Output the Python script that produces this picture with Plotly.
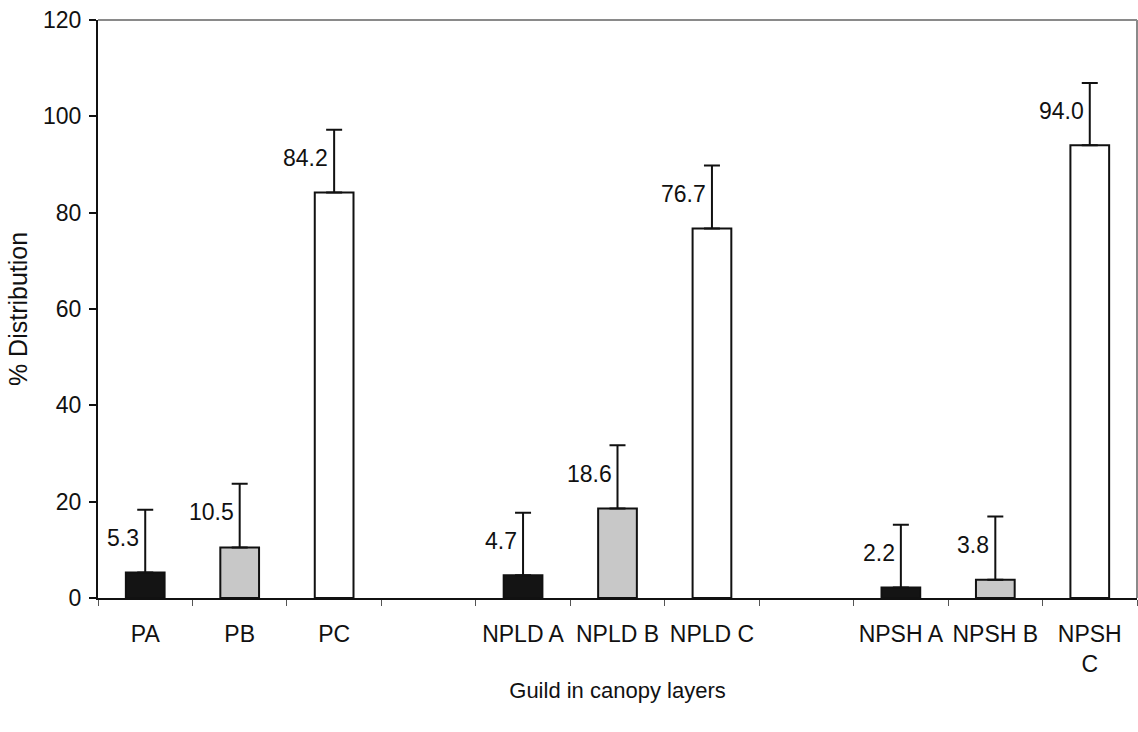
import plotly.graph_objects as go

categories = ["PA", "PB", "PC", " ", "NPLD A", "NPLD B", "NPLD C", "  ", "NPSH A", "NPSH B", "NPSH<br>C"]
bar_cats = ["PA", "PB", "PC", "NPLD A", "NPLD B", "NPLD C", "NPSH A", "NPSH B", "NPSH<br>C"]
values = [5.3, 10.5, 84.2, 4.7, 18.6, 76.7, 2.2, 3.8, 94.0]
errors = [13.0, 13.2, 13.0, 13.0, 13.1, 13.1, 13.0, 13.1, 12.9]
layer = ["A", "B", "C", "A", "B", "C", "A", "B", "C"]
layer_colors = {"A": "#141414", "B": "#c8c8c8", "C": "#ffffff"}
y_ticks = [0, 20, 40, 60, 80, 100, 120]

FONT = "Liberation Sans, Arial, sans-serif"

fig = go.Figure()
fig.add_trace(go.Bar(
    x=bar_cats, y=values,
    width=0.41,
    marker=dict(color=[layer_colors[l] for l in layer], line=dict(color="#111111", width=2)),
    error_y=dict(type="data", symmetric=False, array=errors, arrayminus=[0] * len(errors),
                 color="#111111", thickness=2, width=8),
    showlegend=False,
))

for c, v, e in zip(bar_cats, values, errors):
    fig.add_annotation(x=c, y=v + e * 0.55, text=f"{v:.1f}", showarrow=False,
                       xanchor="right", yanchor="middle", xshift=-4,
                       font=dict(family=FONT, size=23, color="#111111"))

fig.update_layout(
    template="none",
    width=1138, height=732,
    margin=dict(l=98, r=1, t=20, b=134, autoexpand=False),
    paper_bgcolor="white", plot_bgcolor="white",
    bargap=0.59,
    font=dict(family=FONT, color="#111111"),
    xaxis=dict(
        type="category", categoryorder="array", categoryarray=categories,
        tickson="boundaries", ticks="outside", ticklen=6, tickwidth=1, tickcolor="#555555",
        showline=True, linecolor="#111111", linewidth=2,
        showgrid=False, zeroline=False, automargin=False, tickangle=0,
        ticklabelstandoff=14,
        tickfont=dict(family=FONT, size=23, color="#111111"),
        title=dict(text="Guild in canopy layers", font=dict(family=FONT, size=22, color="#111111"), standoff=7),
        range=[-0.5, 10.5],
    ),
    yaxis=dict(
        range=[0, 120], tickvals=y_ticks,
        ticks="outside", ticklen=7, tickwidth=2, tickcolor="#111111",
        showline=True, linecolor="#111111", linewidth=2,
        showgrid=False, zeroline=False, automargin=False,
        ticklabeloverflow="allow", ticklabelstandoff=3,
        tickfont=dict(family=FONT, size=23, color="#111111"),
        title=dict(text="% Distribution", font=dict(family=FONT, size=25, color="#111111"), standoff=8),
    ),
    shapes=[
        dict(type="line", xref="paper", yref="paper", x0=0, x1=1, y0=1, y1=1,
             line=dict(color="#8a8a8a", width=2)),
        dict(type="line", xref="paper", yref="paper", x0=1, x1=1, y0=0, y1=1,
             line=dict(color="#8a8a8a", width=2)),
    ],
)

fig.write_html("out.html", config={"displayModeBar": False},
               post_script="document.body.style.margin='0';")
